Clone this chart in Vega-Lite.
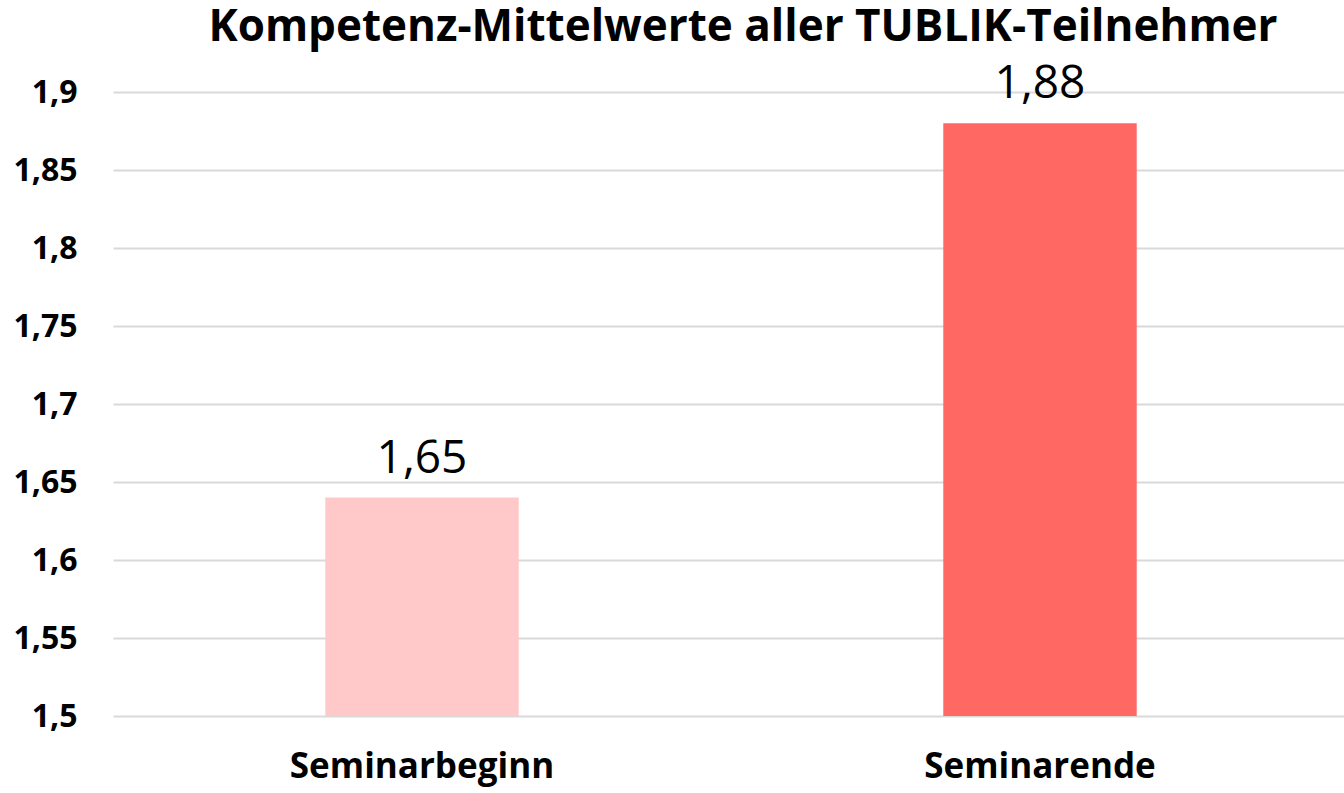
{
  "$schema": "https://vega.github.io/schema/vega-lite/v6.json",
  "width": 1236,
  "height": 624,
  "autosize": {"type": "none"},
  "padding": {"left": 113, "top": 92, "right": 0, "bottom": 77},
  "background": "white",
  "config": {"view": {"stroke": null}, "font": "Open Sans"},
  "title": {
    "text": "Kompetenz-Mittelwerte aller TUBLIK-Teilnehmer",
    "font": "Open Sans",
    "fontSize": 44,
    "fontWeight": "bold",
    "color": "#000000",
    "anchor": "middle",
    "dx": 12,
    "offset": 11
  },
  "data": {
    "values": [
      {"phase": "Seminarbeginn", "wert": 1.64, "label": "1,65"},
      {"phase": "Seminarende", "wert": 1.88, "label": "1,88"}
    ]
  },
  "encoding": {
    "x": {
      "field": "phase",
      "type": "nominal",
      "sort": null,
      "scale": {"paddingInner": 0, "paddingOuter": 0},
      "axis": {
        "title": null,
        "labelAngle": 0,
        "labelFont": "Open Sans",
        "labelFontSize": 35,
        "labelFontWeight": "bold",
        "labelColor": "#000000",
        "labelPadding": 33,
        "labelOverlap": false,
        "labelLimit": 0,
        "ticks": false,
        "domain": false
      }
    },
    "y": {
      "field": "wert",
      "type": "quantitative",
      "scale": {"domain": [1.5, 1.9], "zero": false, "nice": false},
      "axis": {
        "title": null,
        "values": [1.5, 1.55, 1.6, 1.65, 1.7, 1.75, 1.8, 1.85, 1.9],
        "labelExpr": "replace(format(datum.value, '.2~f'), '.', ',')",
        "labelFont": "Open Sans",
        "labelFontSize": 32,
        "labelFontWeight": "bold",
        "labelColor": "#000000",
        "labelPadding": 36,
        "ticks": false,
        "domain": false,
        "grid": true,
        "gridColor": "#D9D9D9",
        "gridWidth": 2
      }
    }
  },
  "layer": [
    {
      "mark": {"type": "bar", "width": {"band": 0.313}},
      "encoding": {
        "y2": {"datum": 1.5},
        "color": {
          "field": "phase",
          "type": "nominal",
          "scale": {"domain": ["Seminarbeginn", "Seminarende"], "range": ["#FFC9C9", "#FF6863"]},
          "legend": null
        }
      }
    },
    {
      "mark": {"type": "text", "baseline": "alphabetic", "dy": -25, "font": "Open Sans", "fontSize": 46, "color": "#000000"},
      "encoding": {"text": {"field": "label"}}
    }
  ]
}
